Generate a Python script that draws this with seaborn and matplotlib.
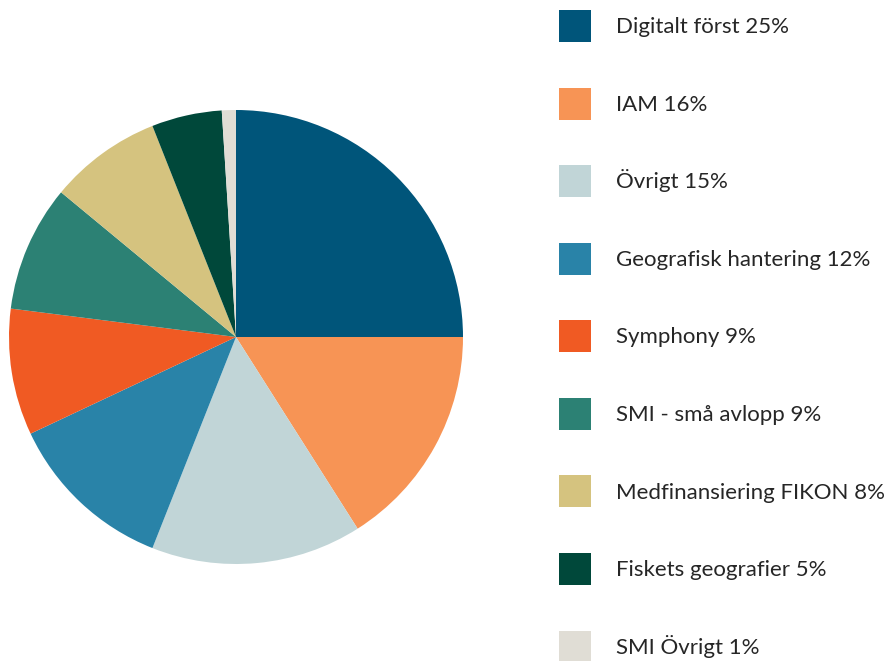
import matplotlib
matplotlib.use("Agg")
import matplotlib.pyplot as plt
import seaborn as sns
from matplotlib.patches import Patch

labels = ["Digitalt först", "IAM", "Övrigt", "Geografisk hantering", "Symphony",
          "SMI - små avlopp", "Medfinansiering FIKON", "Fiskets geografier", "SMI Övrigt"]
shares = [25, 16, 15, 12, 9, 9, 8, 5, 1]
colors = ["#00557A", "#F79455", "#C1D5D7", "#2983A8", "#F05A23",
          "#2C8174", "#D5C37F", "#00483A", "#E0DDD5"]

sns.set_theme(style="white")
plt.rcParams["font.family"] = ["Lato", "DejaVu Sans"]

fig = plt.figure(figsize=(8.9, 6.61), dpi=100)
ax = fig.add_axes([9 / 890, 97 / 661, 454 / 890, 454 / 661])
pal = sns.color_palette(colors)
ax.pie(shares, colors=pal, startangle=90, counterclock=False, radius=1,
       wedgeprops={"linewidth": 0, "edgecolor": "none"})
ax.set_xlim(-1, 1)
ax.set_ylim(-1, 1)
ax.set_aspect("equal")
ax.axis("off")

handles = [Patch(facecolor=c, edgecolor="none") for c in pal]
texts = [f"{l} {v}%" for l, v in zip(labels, shares)]
fs = 16
fig.legend(handles, texts, loc="upper left", bbox_to_anchor=(559 / 890, 1 - 10 / 661),
           frameon=False, fontsize=fs, handlelength=1.44, handleheight=1.84,
           handletextpad=1.12, labelspacing=2.05, borderpad=0, borderaxespad=0)

fig.savefig("out.png", dpi=100)
